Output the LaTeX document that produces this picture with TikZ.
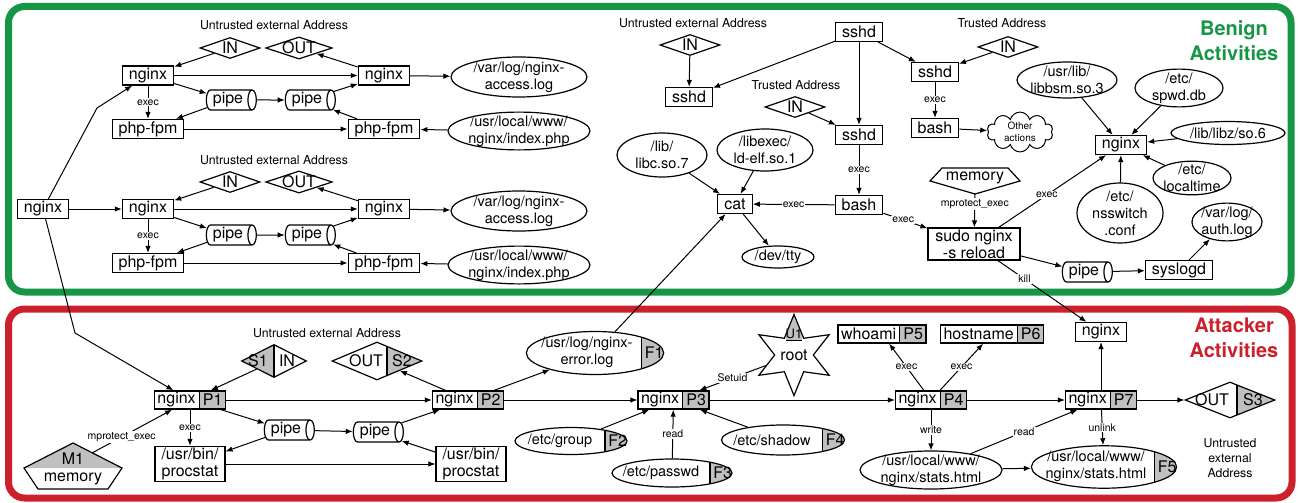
\documentclass[tikz,border=0pt]{standalone}
\usepackage{fontspec}
\setmainfont{TeX Gyre Heros}
\usetikzlibrary{shapes.geometric,shapes.multipart,shapes.symbols,arrows.meta}
\definecolor{benign-green}{RGB}{24,150,72}
\definecolor{attack-red}{RGB}{204,32,44}
\definecolor{tag-gray}{RGB}{192,192,192}
\newcommand\boxfont{\fontsize{16}{17}\selectfont}
\newcommand\filefont{\fontsize{14.5}{17}\selectfont}
\newcommand\lblfont{\fontsize{10.5}{12}\selectfont}
\newcommand\notefont{\fontsize{12.3}{15}\selectfont}
\newcommand\twol[2]{\begin{tabular}{@{}c@{}}#1\\#2\end{tabular}}
\newcommand\tagpad[1]{\rule{#1}{0pt}}
\tikzset{
    proc-box/.style = {draw, line width=1.2pt, fill=white, rectangle, font=\boxfont, inner xsep=6.5pt, inner ysep=1.5pt, minimum height=19pt, align=center},
    tag-box/.style = {draw, line width=1.2pt, rectangle split, rectangle split horizontal, rectangle split parts=2, rectangle split part fill={white,tag-gray}, font=\boxfont, inner xsep=3pt, inner ysep=1.5pt, minimum height=18pt},
    file-oval/.style = {draw, line width=1.2pt, fill=white, ellipse, font=\filefont, align=center, inner sep=-2pt},
    tag-oval/.style = {draw, line width=1.2pt, fill=white, ellipse, font=\filefont, inner xsep=-5pt, inner ysep=-2pt,
        path picture={\fill[tag-gray] ([xshift=-22pt]path picture bounding box.north east) rectangle (path picture bounding box.south east);
            \draw[line width=1.2pt] ([xshift=-22pt]path picture bounding box.north east) -- ([xshift=-22pt]path picture bounding box.south east);}},
    tag-text/.style = {font=\boxfont, anchor=center},
    addr-diamond/.style = {draw, line width=1.2pt, fill=white, diamond, aspect=3, inner sep=-0.5pt, font=\boxfont, minimum width=60pt, minimum height=21pt},
    tag-left/.style = {path picture={\fill[tag-gray] (path picture bounding box.north west) rectangle ([xshift=#1]path picture bounding box.south);
            \draw[line width=1.2pt] ([xshift=#1]path picture bounding box.north) -- ([xshift=#1]path picture bounding box.south);}},
    tag-right/.style = {path picture={\fill[tag-gray] ([xshift=#1]path picture bounding box.north) rectangle (path picture bounding box.south east);
            \draw[line width=1.2pt] ([xshift=#1]path picture bounding box.north) -- ([xshift=#1]path picture bounding box.south);}},
    pipe-cyl/.style = {draw, line width=1.2pt, fill=white, cylinder, shape aspect=0.5, minimum width=20pt, minimum height=50pt, inner sep=1pt, font=\boxfont},
    other-cloud/.style = {draw, line width=1pt, fill=white, cloud, cloud puffs=10, aspect=2.2, inner sep=0pt, font=\fontsize{10}{11.5}\selectfont, align=center, minimum width=66pt, minimum height=30pt},
    root-star/.style = {draw, line width=1.2pt, fill=white, star, star points=6, star point ratio=2.1, minimum size=70pt, inner sep=0pt, font=\boxfont,
        path picture={\fill[tag-gray] ([xshift=-8.3pt,yshift=14.4pt]path picture bounding box.center) rectangle ([xshift=8.3pt]path picture bounding box.north);
            \draw[line width=1.2pt] ([xshift=-8.3pt,yshift=14.4pt]path picture bounding box.center) -- ([xshift=8.3pt,yshift=14.4pt]path picture bounding box.center);}},
    mem-shape/.style = {draw, line width=1.2pt, fill=white},
    box-text/.style = {font=\boxfont},
    note/.style = {font=\notefont, align=center},
    lbl/.style = {font=\lblfont, fill=white, inner sep=1pt},
    flow/.style = {-{Latex[length=7pt,width=5.5pt]}, line width=1pt},
    benign-frame/.style = {draw=benign-green, line width=7pt, rounded corners=16pt},
    attack-frame/.style = {draw=attack-red, line width=7pt, rounded corners=16pt},
    benign-title/.style = {font=\fontsize{20}{25}\selectfont\bfseries, text=benign-green, align=center},
    attack-title/.style = {font=\fontsize{20}{25}\selectfont\bfseries, text=attack-red, align=center},
}

\begin{document}
\begin{tikzpicture}[x=1pt, y=-1pt]
\useasboundingbox (0,0) rectangle (1298,503);
\draw[benign-frame] (8.5,6.5) rectangle (1291,292);
\draw[attack-frame] (8.5,309) rectangle (1292,498);
\node[benign-title] (benign) at (1234,41) {Benign\\Activities};
\node[attack-title] (attacker) at (1234,338) {Attacker\\Activities};

% benign: two php-fpm sessions
\node[proc-box] (ng-root) at (43,209) {nginx};
\coordinate (bend-up) at (97,108);
\coordinate (bend-down) at (75,333);

\node[note] (ut-a) at (274,25) {Untrusted external Address};
\node[addr-diamond] (in-a) at (230,48) {IN};
\node[addr-diamond] (out-a) at (299,48) {OUT};
\node[proc-box] (ng-a1) at (148,75.5) {nginx};
\node[proc-box] (ng-a2) at (384,75.5) {nginx};
\node[pipe-cyl] (pipe-a1) at (228,100) {pipe};
\node[pipe-cyl] (pipe-a2) at (307,100) {pipe};
\node[proc-box] (php-a1) at (148,129) {php-fpm};
\node[proc-box] (php-a2) at (384,129) {php-fpm};
\node[file-oval, minimum width=136pt, minimum height=40pt] (acc-a) at (519,77) {/var/log/nginx-\\access.log};
\node[file-oval, minimum width=142pt, minimum height=36pt] (idx-a) at (519,131) {/usr/local/www/\\nginx/index.php};

\node[note] (ut-b) at (274,160) {Untrusted external Address};
\node[addr-diamond] (in-b) at (230,182) {IN};
\node[addr-diamond] (out-b) at (299,182) {OUT};
\node[proc-box] (ng-b1) at (148,209) {nginx};
\node[proc-box] (ng-b2) at (384,209) {nginx};
\node[pipe-cyl] (pipe-b1) at (228,235) {pipe};
\node[pipe-cyl] (pipe-b2) at (307,235) {pipe};
\node[proc-box] (php-b1) at (148,263) {php-fpm};
\node[proc-box] (php-b2) at (384,263) {php-fpm};
\node[file-oval, minimum width=136pt, minimum height=40pt] (acc-b) at (519,211) {/var/log/nginx-\\access.log};
\node[file-oval, minimum width=142pt, minimum height=36pt] (idx-b) at (519,265) {/usr/local/www/\\nginx/index.php};

\draw[flow] (ng-root) -- (bend-up) -- (ng-a1);
\draw[flow] (ng-root) -- (ng-b1);
\draw[flow] (in-a) -- (ng-a1);
\draw[flow] (ng-a2) -- (out-a);
\draw[flow] (ng-a1) -- (ng-a2);
\draw[flow] (ng-a1) -- (pipe-a1);
\draw[flow] (pipe-a1) -- (pipe-a2);
\draw[flow] (pipe-a2) -- (ng-a2);
\draw[flow] (ng-a1) -- node[lbl]{exec} (php-a1);
\draw[flow] (pipe-a1) -- (php-a1);
\draw[flow] (php-a1) -- (php-a2);
\draw[flow] (php-a2) -- (pipe-a2);
\draw[flow] (idx-a) -- (php-a2);
\draw[flow] (ng-a2) -- (acc-a);
\draw[flow] (in-b) -- (ng-b1);
\draw[flow] (ng-b2) -- (out-b);
\draw[flow] (ng-b1) -- (ng-b2);
\draw[flow] (ng-b1) -- (pipe-b1);
\draw[flow] (pipe-b1) -- (pipe-b2);
\draw[flow] (pipe-b2) -- (ng-b2);
\draw[flow] (ng-b1) -- node[lbl]{exec} (php-b1);
\draw[flow] (pipe-b1) -- (php-b1);
\draw[flow] (php-b1) -- (php-b2);
\draw[flow] (php-b2) -- (pipe-b2);
\draw[flow] (idx-b) -- (php-b2);
\draw[flow] (ng-b2) -- (acc-b);

% benign: sshd logins and reload
\node[note] (ut-c) at (693,23) {Untrusted external Address};
\node[addr-diamond] (in-c) at (690,45) {IN};
\node[proc-box] (sshd-l) at (689,97) {sshd};
\node[proc-box] (sshd-t) at (859,32) {sshd};
\node[note] (ta-m) at (796,85) {Trusted Address};
\node[addr-diamond] (in-m) at (795,107) {IN};
\node[proc-box] (sshd-m) at (859,135) {sshd};
\node[proc-box] (sshd-r) at (935,72) {sshd};
\node[note] (ta-r) at (1002,23) {Trusted Address};
\node[addr-diamond] (in-r) at (1008,47) {IN};
\node[proc-box] (bash-r) at (935,128) {bash};
\node[other-cloud] (other) at (1020,132) {Other\\actions};
\node[proc-box] (bash-m) at (859,205) {bash};
\node[proc-box] (cat) at (735,204) {cat};
\node[file-oval, minimum width=72pt, minimum height=22pt] (tty) at (778,257) {/dev/tty};
\node[file-oval, minimum width=90pt, minimum height=44pt] (libc) at (662,155) {/lib/\\libc.so.7};
\node[file-oval, minimum width=96pt, minimum height=42pt] (ldelf) at (765,150) {/libexec/\\ld-elf.so.1};
\draw[mem-shape] (942,168) -- (1008,168) -- (1020,181) -- (975,194) -- (930,181) -- cycle;
\node[box-text] (mem-c) at (975,178) {memory};
\coordinate (mem-c-tip) at (975,194);
\node[proc-box, minimum width=92pt] (sudo) at (974,244) {sudo nginx\\-s reload};
\node[proc-box] (ng-c) at (1121,145) {nginx};
\node[file-oval, minimum width=100pt, minimum height=36pt] (libbsm) at (1067,80) {/usr/lib/\\libbsm.so.3};
\node[file-oval, minimum width=88pt, minimum height=36pt] (spwd) at (1179,88) {/etc/\\spwd.db};
\node[file-oval, minimum width=114pt, minimum height=23pt] (libz) at (1228,133) {/lib/libz/so.6};
\node[file-oval, minimum width=78pt, minimum height=30pt] (ltime) at (1192,178) {/etc/\\localtime};
\node[file-oval, minimum width=86pt, minimum height=60pt] (nssw) at (1120,213) {/etc/\\nsswitch\\.conf};
\node[pipe-cyl] (pipe-c) at (1084,272) {pipe};
\node[proc-box] (syslogd) at (1179,270) {syslogd};
\node[file-oval, minimum width=70pt, minimum height=37pt] (auth) at (1227,222) {/var/log/\\auth.log};

\draw[flow] (in-c) -- (sshd-l);
\draw[flow] (sshd-t) -- (sshd-l);
\draw[flow] (sshd-t) -- (sshd-m);
\draw[flow] (sshd-t) -- (sshd-r);
\draw[flow] (in-m) -- (sshd-m);
\draw[flow] (in-r) -- (sshd-r);
\draw[flow] (sshd-r) -- node[lbl]{exec} (bash-r);
\draw[flow] (bash-r) -- (other);
\draw[flow] (sshd-m) -- node[lbl]{exec} (bash-m);
\draw[flow] (bash-m) -- node[lbl]{exec} (cat);
\draw[flow] (bash-m) -- node[lbl, pos=0.45]{exec} (sudo);
\draw[flow] (cat) -- (tty);
\draw[flow] (libc) -- (cat);
\draw[flow] (ldelf) -- (cat);
\draw[flow] (mem-c-tip) -- node[lbl, pos=0.3]{mprotect\_exec} (sudo);
\draw[flow] (sudo) -- node[lbl, pos=0.45]{exec} (ng-c);
\draw[flow] (sudo) -- (pipe-c);
\draw[flow] (pipe-c) -- (syslogd);
\draw[flow] (syslogd) -- (auth);
\draw[flow] (libbsm) -- (ng-c);
\draw[flow] (spwd) -- (ng-c);
\draw[flow] (libz) -- (ng-c);
\draw[flow] (ltime) -- (ng-c);
\draw[flow] (nssw) -- (ng-c);

% attacker
\node[note] (ut-d) at (327,333) {Untrusted external Address};
\node[addr-diamond, tag-left=0pt, minimum width=65pt, minimum height=33pt,
    label={[tag-text, xshift=-16pt]center:S1}, label={[tag-text, xshift=13pt]center:IN}] (s1) at (274,361) {};
\node[tag-box] (p1) at (190,400) {nginx\nodepart{two}P1};
\fill[tag-gray] (73,443) -- (122,468) -- (24,468) -- cycle;
\draw[line width=1.2pt] (73,443) -- (122,468) -- (108,489) -- (38,489) -- (24,468) -- cycle;
\node[box-text] (m1-tag) at (73,459) {M1};
\node[box-text] (m1) at (73,479) {memory};
\coordinate (m1-top) at (92,453);
\node[pipe-cyl] (pipe-d1) at (286,430) {pipe};
\node[pipe-cyl] (pipe-d2) at (375,432) {pipe};
\node[proc-box] (proc-d1) at (190,464) {/usr/bin/\\procstat};
\node[proc-box] (proc-d2) at (471,464) {/usr/bin/\\procstat};
\node[addr-diamond, tag-right=10pt, minimum width=90pt, minimum height=38pt,
    label={[tag-text, xshift=-11pt]center:OUT}, label={[tag-text, xshift=25pt]center:S2}] (s2) at (377,361) {};
\node[tag-box] (p2) at (468,400) {nginx\nodepart{two}P2};
\node[tag-oval, minimum width=136pt, minimum height=43pt, label={[tag-text, xshift=-10pt]east:F1}] (f1) at (595,353) {\twol{/usr/log/nginx-}{error.log}\tagpad{16pt}};
\node[tag-oval, inner xsep=-8pt, minimum width=112pt, minimum height=27pt, label={[tag-text, xshift=-10pt]east:F2}] (f2) at (571,441) {/etc/group\tagpad{22pt}};
\node[tag-box] (p3) at (673.5,400) {nginx\nodepart{two}P3};
\node[root-star, label={[font=\fontsize{13}{14}\selectfont, yshift=21pt]center:U1}] (root) at (794,355) {root};
\node[tag-oval, inner xsep=-9pt, minimum width=120pt, minimum height=28pt, label={[tag-text, xshift=-10pt]east:F3}] (f3) at (672,473) {/etc/passwd\tagpad{22pt}};
\node[tag-oval, inner xsep=-9pt, minimum width=123pt, minimum height=30pt, label={[tag-text, xshift=-10pt]east:F4}] (f4) at (783,440) {/etc/shadow\tagpad{22pt}};
\node[tag-box] (p5) at (882,334) {whoami\nodepart{two}P5};
\node[tag-box] (p6) at (992,334) {hostname\nodepart{two}P6};
\node[tag-box] (p4) at (931,400) {nginx\nodepart{two}P4};
\node[file-oval, minimum width=142pt, minimum height=38pt] (st1) at (931,470) {/usr/local/www/\\nginx/stats.html};
\node[tag-oval, inner xsep=-7pt, minimum width=142pt, minimum height=36pt, label={[tag-text, xshift=-10pt]east:F5}] (f5) at (1104,467) {\twol{/usr/local/www/}{nginx/stats.html}\tagpad{16pt}};
\node[tag-box] (p7) at (1101,400) {nginx\nodepart{two}P7};
\node[proc-box] (ng-kill) at (1101,332) {nginx};
\node[addr-diamond, tag-right=7pt, minimum width=90pt, minimum height=36pt,
    label={[tag-text, xshift=-18pt]center:OUT}, label={[tag-text, xshift=23pt]center:S3}] (s3) at (1230,400) {};
\node[note] (ut-e) at (1230,458) {Untrusted\\external\\Address};

\draw[flow] (ng-root) -- (bend-down) -- (p1);
\draw[flow] (m1-top) -- node[lbl, pos=0.37]{mprotect\_exec} (p1);
\draw[flow] (s1) -- (p1);
\draw[flow] (p1) -- (pipe-d1);
\draw[flow] (pipe-d1) -- (proc-d1);
\draw[flow] (p1) -- node[lbl]{exec} (proc-d1);
\draw[flow] (p1) -- (p2);
\draw[flow] (pipe-d1) -- (pipe-d2);
\draw[flow] (proc-d1) -- (proc-d2);
\draw[flow] (pipe-d2) -- (p2);
\draw[flow] (proc-d2) -- (pipe-d2);
\draw[flow] (p2) -- (s2);
\draw[flow] (p2) -- (f1);
\draw[flow] (p2) -- (p3);
\draw[flow] (f1) -- (cat);
\draw[flow] (f2) -- (p3);
\draw[flow] (root) -- node[lbl]{Setuid} (p3);
\draw[flow] (f3) -- node[lbl]{read} (p3);
\draw[flow] (f4) -- (p3);
\draw[flow] (p3) -- (p4);
\draw[flow] (p4) -- node[lbl]{exec} (p5);
\draw[flow] (p4) -- node[lbl]{exec} (p6);
\draw[flow] (p4) -- node[lbl]{write} (st1);
\draw[flow] (p4) -- (p7);
\draw[flow] (st1) -- (f5);
\draw[flow] (st1) -- node[lbl]{read} (p7);
\draw[flow] (p7) -- (ng-kill);
\draw[flow] (p7) -- node[lbl]{unlink} (f5);
\draw[flow] (p7) -- (s3);
\draw[flow] (sudo) -- node[lbl, pos=0.3]{kill} (ng-kill);
\end{tikzpicture}
\end{document}
